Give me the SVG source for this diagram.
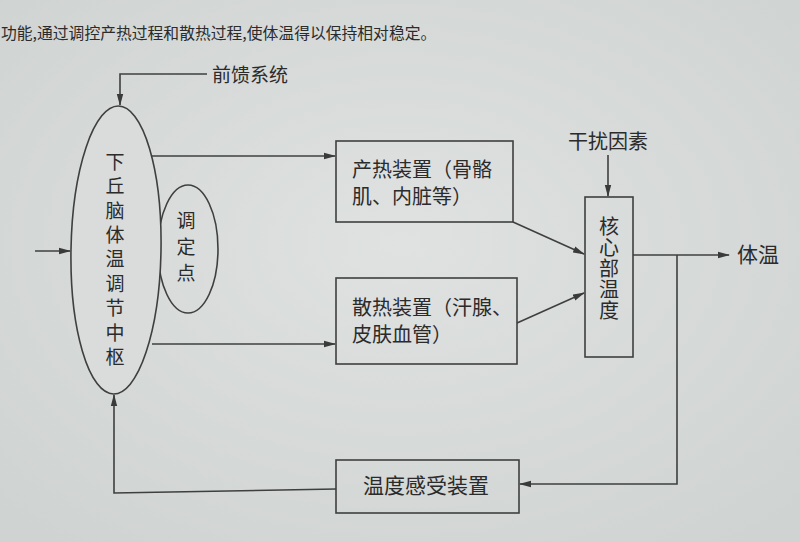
<svg xmlns="http://www.w3.org/2000/svg" width="800" height="542" viewBox="0 0 800 542">
<defs>
<marker id="ah" markerWidth="12" markerHeight="8" refX="11" refY="4" orient="auto" markerUnits="userSpaceOnUse">
<path d="M0,0.8 L12,4 L0,7.2 Z" fill="#3a3a3a"/>
</marker>
<radialGradient id="bg" cx="50%" cy="45%" r="70%">
<stop offset="0" stop-color="#dfe2e1"/>
<stop offset="1" stop-color="#cfd3d2"/>
</radialGradient>
</defs>
<style>
.t{font-family:"Noto Sans CJK SC","Noto Sans",sans-serif;fill:#2b2b2b;}
.v{writing-mode:vertical-rl;}
.ln{stroke:#3f3f3f;stroke-width:1.6;fill:none;}
.bx{stroke:#3f3f3f;stroke-width:1.6;fill:none;}
.ar{marker-end:url(#ah);}
</style>
<rect width="800" height="542" fill="url(#bg)"/>
<text class="t" x="1" y="39" font-size="15.8">功能,通过调控产热过程和散热过程,使体温得以保持相对稳定。</text>

<g id="setpoint">
<ellipse cx="188" cy="249" rx="30" ry="64" class="bx"/>
<text class="t v" x="186" y="211" font-size="19" letter-spacing="7">调定点</text>
</g>

<g id="hypothalamus">
<ellipse cx="116" cy="250" rx="45" ry="144" transform="rotate(1 116 250)" stroke="#3f3f3f" stroke-width="1.6" fill="#d9dcdb"/>
<text class="t v" x="115" y="152" font-size="19" letter-spacing="5.4">下丘脑体温调节中枢</text>
</g>

<g id="feedforward">
<text class="t" x="212" y="82" font-size="19">前馈系统</text>
</g>

<g id="heat-production">
<rect x="336" y="141" width="177" height="81" class="bx"/>
<text class="t" x="352" y="177" font-size="20">产热装置（骨骼</text>
<text class="t" x="352" y="204" font-size="20">肌、内脏等）</text>
</g>

<g id="heat-loss">
<rect x="336" y="278" width="181" height="86" class="bx"/>
<text class="t" x="352" y="315" font-size="20">散热装置（汗腺、</text>
<text class="t" x="352" y="342" font-size="20">皮肤血管）</text>
</g>

<g id="disturbance">
<text class="t" x="568" y="149" font-size="20">干扰因素</text>
</g>

<g id="core-temp">
<rect x="585" y="197" width="48" height="160" class="bx"/>
<text class="t v" x="609" y="216" font-size="20" letter-spacing="1.2">核心部温度</text>
</g>

<g id="body-temp">
<text class="t" x="737" y="262" font-size="21">体温</text>
</g>

<g id="sensor">
<rect x="336" y="460" width="183" height="53" class="bx"/>
<text class="t" x="363" y="493" font-size="21">温度感受装置</text>
</g>

<g id="connectors">
<path class="ln ar" d="M207,74 H120 V105"/>
<path class="ln ar" d="M35,251 H70"/>
<path class="ln ar" d="M152,156 H335"/>
<path class="ln ar" d="M152,344 H335"/>
<path class="ln ar" d="M608,155 V196"/>
<path class="ln ar" d="M513,222 L584,254"/>
<path class="ln ar" d="M517,323 L584,293"/>
<path class="ln ar" d="M633,255 H729"/>
<path class="ln ar" d="M677,255 V484 H520"/>
<path class="ln ar" d="M336,489 L114,493 V395"/>
</g>
</svg>
